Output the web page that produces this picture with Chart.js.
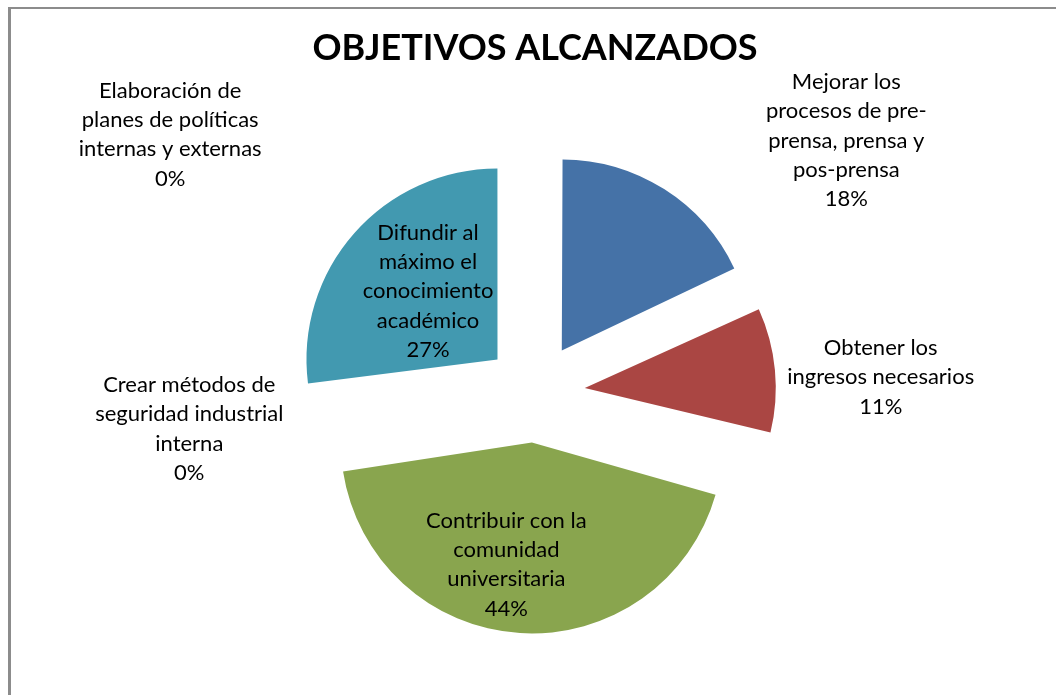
<!DOCTYPE html>
<html>
<head>
<meta charset="utf-8">
<script src="https://cdn.jsdelivr.net/npm/chart.js@4/dist/chart.umd.min.js"></script>
<style>
    html, body { margin: 0; padding: 0; background: #fff; overflow: hidden; }
    #frame { position: absolute; left: 8px; top: 7px; width: 1100px; height: 800px; border-left: 3px solid #8c8c8c; border-top: 2px solid #8c8c8c; }
    #wrap { position: absolute; left: 0; top: 0; width: 1056px; height: 695px; }
</style>
</head>
<body>
<div id="frame"></div>
<div id="wrap"><canvas id="pie-canvas" width="1056" height="695"></canvas></div>
<script>
const TITLE = "OBJETIVOS ALCANZADOS";

// categories, one line per array entry
const categories = [
    ["Mejorar los", "procesos de pre-", "prensa, prensa y", "pos-prensa"],
    ["Obtener los", "ingresos necesarios"],
    ["Contribuir con la", "comunidad", "universitaria"],
    ["Crear métodos de", "seguridad industrial", "interna"],
    ["Difundir al", "máximo el", "conocimiento", "académico"],
    ["Elaboración de", "planes de políticas", "internas y externas"]
];
const values = [18, 11, 44, 0, 27, 0];
const colors = ["#4572a7", "#aa4643", "#89a54e", "#7d5f9a", "#4299b0", "#db843d"];

// where each label block sits, relative to the pie centre, in radius units
const labelAnchors = [
    [1.63, -1.32],
    [1.81, -0.08],
    [-0.15, 0.90],
    [-1.81, 0.19],
    [-0.56, -0.53],
    [-1.91, -1.35]
];

const RADIUS = 191;
const EXPLODE = 200;   // arc offset option (library uses a quarter of it as the shift)

// keep every exploded slice at the same radius (the library grows narrow slices)
const radiusPlugin = {
    id: 'sameRadius',
    beforeDatasetsDraw(chart) {
        chart.getDatasetMeta(0).data.forEach(arc => {
            const shift = (arc.options.offset || 0) / 4;
            const fix = 1 - Math.sin(Math.min(Math.PI, arc.circumference || 0));
            arc.outerRadius = RADIUS - shift * fix;
        });
    }
};

const labelPlugin = {
    id: 'pieLabels',
    afterDatasetsDraw(chart) {
        const meta = chart.getDatasetMeta(0);
        const ctx = chart.ctx;
        const area = chart.chartArea;
        const cx = (area.left + area.right) / 2;
        const cy = (area.top + area.bottom) / 2;
        const total = values.reduce((a, b) => a + b, 0);
        ctx.save();
        ctx.font = "22px Lato";
        ctx.fillStyle = "#000";
        ctx.textAlign = "center";
        ctx.textBaseline = "middle";
        const lineH = 29.3;
        meta.data.forEach((arc, i) => {
            const lines = categories[i].concat([Math.round(values[i] / total * 100) + "%"]);
            const x = cx + labelAnchors[i][0] * RADIUS;
            const y0 = cy + labelAnchors[i][1] * RADIUS - (lines.length - 1) * lineH / 2;
            lines.forEach((t, k) => ctx.fillText(t, x, y0 + k * lineH));
        });
        ctx.restore();
    }
};

new Chart(document.getElementById('pie-canvas'), {
    type: 'pie',
    data: {
        labels: categories.map(c => c.join(" ")),
        datasets: [{
            data: values,
            backgroundColor: colors,
            borderWidth: 0,
            offset: EXPLODE,
            radius: RADIUS
        }]
    },
    options: {
        responsive: false,
        animation: false,
        layout: { padding: { top: 27, left: 14, right: 0, bottom: 0 } },
        plugins: {
            legend: { display: false },
            tooltip: { enabled: false },
            title: {
                display: true,
                text: TITLE,
                color: "#000",
                font: { family: "Lato", size: 36, weight: "bold" },
                padding: { top: 0, bottom: 20 }
            }
        }
    },
    plugins: [radiusPlugin, labelPlugin]
});
</script>
</body>
</html>
